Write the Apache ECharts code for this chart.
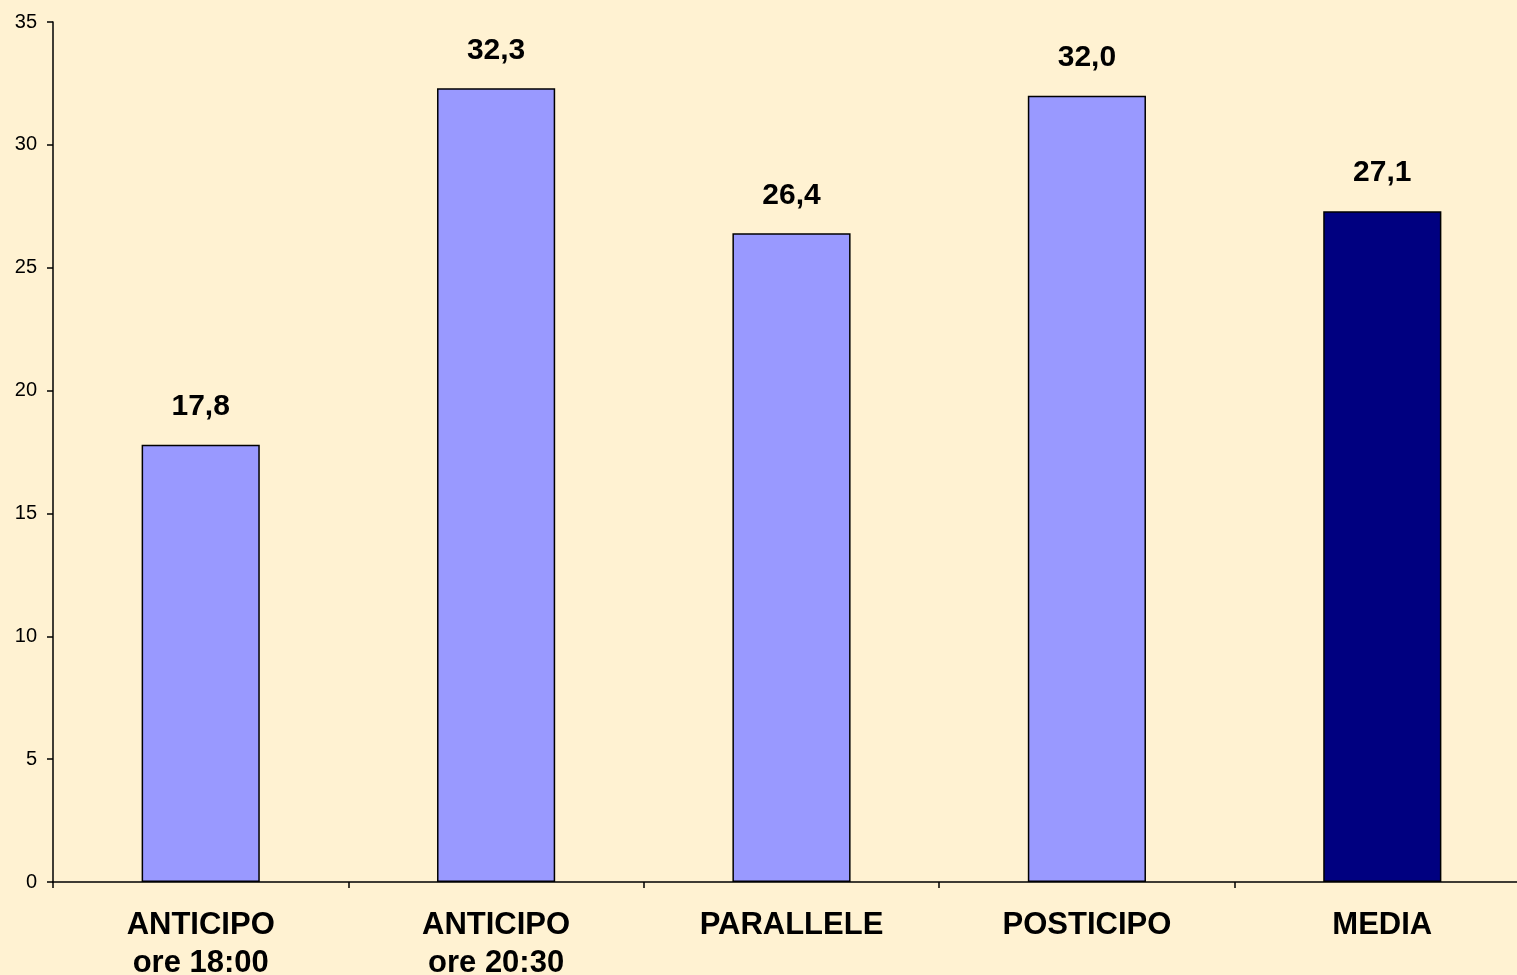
<!DOCTYPE html>
<html lang="it">
<head>
  <meta charset="UTF-8" />
  <title>Anticipi e posticipi</title>
  <script src="https://cdn.jsdelivr.net/npm/echarts@6/dist/echarts.min.js"></script>
  <style>
    html, body {
      margin: 0;
      padding: 0;
      background: #FFF2D2;
    }
    #chart {
      width: 1517px;
      height: 975px;
    }
  </style>
</head>
<body>
  <div id="chart"></div>

  <script>
    const categories = ['ANTICIPO\nore 18:00', 'ANTICIPO\nore 20:30', 'PARALLELE', 'POSTICIPO', 'MEDIA'];
    const values = [17.8, 32.3, 26.4, 32.0, 27.3];
    const valueLabels = ['17,8', '32,3', '26,4', '32,0', '27,1'];
    const barColors = ['#9999FF', '#9999FF', '#9999FF', '#9999FF', '#000080'];

    const myChart = echarts.init(document.getElementById('chart'));

    myChart.setOption({
      backgroundColor: '#FFF2D2',
      animation: false,
      grid: {
        left: 53,
        top: 22,
        bottom: 93,
        right: -13,
        containLabel: false,
        outerBoundsMode: 'none'
      },
      xAxis: {
        type: 'category',
        data: categories,
        axisLine: { lineStyle: { color: '#000', width: 1.5 } },
        axisTick: { show: true, length: 6, lineStyle: { color: '#000', width: 1.5 } },
        axisLabel: {
          color: '#000',
          fontFamily: 'Arial, "Liberation Sans", sans-serif',
          fontWeight: 'bold',
          fontSize: 31,
          lineHeight: 38,
          margin: 24
        }
      },
      yAxis: {
        type: 'value',
        min: 0,
        max: 35,
        interval: 5,
        splitLine: { show: false },
        axisLine: { show: true, lineStyle: { color: '#000', width: 1.5 } },
        axisTick: { show: true, length: 6, lineStyle: { color: '#000', width: 1.5 } },
        axisLabel: {
          color: '#000',
          fontFamily: 'Arial, "Liberation Sans", sans-serif',
          fontSize: 20,
          margin: 16
        }
      },
      series: [{
        type: 'bar',
        barWidth: '40%',
        data: values.map((v, i) => ({
          value: v,
          itemStyle: { color: barColors[i] }
        })),
        itemStyle: {
          borderColor: '#000',
          borderWidth: 1.5
        },
        label: {
          show: true,
          position: 'top',
          distance: 23,
          color: '#000',
          fontFamily: 'Arial, "Liberation Sans", sans-serif',
          fontWeight: 'bold',
          fontSize: 30,
          formatter: p => valueLabels[p.dataIndex]
        }
      }]
    });
  </script>
</body>
</html>
